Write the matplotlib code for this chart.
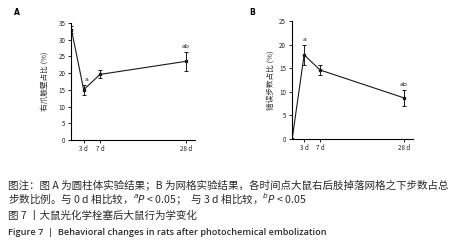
import matplotlib
matplotlib.use("Agg")
import matplotlib.pyplot as plt

plt.rcParams['font.family'] = ['Noto Sans CJK SC', 'DejaVu Sans']

# data
days = [0, 3, 7, 28]
day_labels = ["3 d", "7 d", "28 d"]
a_mean = [33.0, 15.0, 19.6, 23.5]
a_err = [1.0, 1.5, 1.2, 2.9]
b_mean = [0.0, 17.8, 14.6, 8.7]
b_err = [0.0, 2.1, 1.1, 1.7]
a_marks = {3: "a", 28: "ab"}
b_marks = {3: "a", 28: "ab"}

fig = plt.figure(figsize=(4.57, 2.49), dpi=100)


def panel(rect, mean, err, ylim, ystep, ylabel, marks, labelpad, mark_dx):
    ax = fig.add_axes(rect)
    ax.errorbar(days, mean, yerr=err, color='#1a1a1a', marker='s', markersize=1.6,
                linewidth=0.8, elinewidth=0.7, capsize=1.5, capthick=0.7)
    for d, txt in marks.items():
        i = days.index(d)
        dx = mark_dx.get(d, 0)
        ax.text(d + dx, mean[i] + err[i] + ylim * 0.025, txt, ha='center', va='bottom',
                fontsize=4.5, color='#222222', family='DejaVu Sans')
    ax.set_xlim(-0.15, 30.3)
    ax.set_ylim(0, ylim)
    ax.set_yticks(range(0, ylim + 1, ystep))
    ax.set_xticks(days[1:])
    ax.set_xticklabels(day_labels)
    for s in ['top', 'right']:
        ax.spines[s].set_visible(False)
    for s in ['left', 'bottom']:
        ax.spines[s].set_linewidth(0.8)
    ax.tick_params(labelsize=4.5, width=0.7, length=2.5, pad=1.5, colors='#222222')
    ax.set_ylabel(ylabel, fontsize=5.5, color='#333333', labelpad=labelpad)
    return ax


panel([0.155, 0.438, 0.272, 0.470], a_mean, a_err, 35, 5, "右爪触壁占比 (%)", a_marks,
      7, {3: 0.7})
panel([0.638, 0.442, 0.266, 0.474], b_mean, b_err, 25, 5, "错误步数占比 (%)", b_marks,
      3, {})

fig.text(0.03, 0.94, "A", fontsize=5.5, fontweight='bold', family='DejaVu Sans')
fig.text(0.545, 0.94, "B", fontsize=5.5, fontweight='bold', family='DejaVu Sans')

cap_color = '#2b2b2b'
fig.text(0.017, 0.245, "图注：图 A 为圆柱体实验结果；B 为网格实验结果，各时间点大鼠右后肢掉落网格之下步数占总",
         fontsize=7.6, color=cap_color)
fig.text(0.017, 0.183, "步数比例。与 0 d 相比较，$^{a}$$\\it{P}$ < 0.05；  与 3 d 相比较，$^{b}$$\\it{P}$ < 0.05",
         fontsize=7.6, color=cap_color)
fig.text(0.017, 0.121, "图 7 丨大鼠光化学栓塞后大鼠行为学变化", fontsize=7.6, color=cap_color)
fig.text(0.017, 0.057, "Figure 7  |  Behavioral changes in rats after photochemical embolization",
         fontsize=6.6, color=cap_color, family='Open Sans', fontweight='semibold')

fig.savefig("out.png", dpi=100)
